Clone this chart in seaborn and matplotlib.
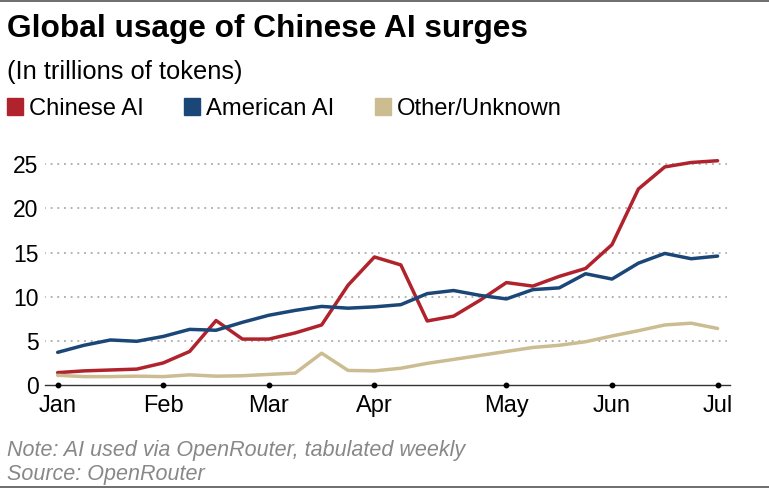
import seaborn as sns
import matplotlib.pyplot as plt
import pandas as pd
from matplotlib.patches import Rectangle
from matplotlib.lines import Line2D

# weekly totals, trillions of tokens
weeks = list(range(26))
chinese = [1.4, 1.6, 1.7, 1.8, 2.5, 3.8, 7.3, 5.2, 5.2, 5.9, 6.8, 11.3, 14.5,
           13.6, 7.25, 7.8, 9.6, 11.6, 11.2, 12.3, 13.2, 15.9, 22.2, 24.7, 25.2, 25.4]
american = [3.7, 4.5, 5.1, 4.95, 5.5, 6.3, 6.2, 7.1, 7.9, 8.45, 8.9, 8.7, 8.85,
            9.1, 10.35, 10.7, 10.15, 9.75, 10.8, 11.0, 12.6, 12.0, 13.8, 14.9, 14.3, 14.6]
other = [1.1, 0.95, 0.95, 1.0, 0.95, 1.15, 1.0, 1.05, 1.2, 1.35, 3.6, 1.65, 1.6,
         1.9, 2.45, 2.9, 3.35, 3.8, 4.25, 4.5, 4.9, 5.55, 6.15, 6.8, 7.0, 6.4]
month_ticks = [0, 4, 8, 12, 17, 21, 25]
month_labels = ["Jan", "Feb", "Mar", "Apr", "May", "Jun", "Jul"]
series = ["Chinese AI", "American AI", "Other/Unknown"]
colors = ["#b0232c", "#1b4778", "#cbbd91"]

df = pd.concat([
    pd.DataFrame({"week": weeks, "value": chinese, "group": series[0]}),
    pd.DataFrame({"week": weeks, "value": american, "group": series[1]}),
    pd.DataFrame({"week": weeks, "value": other, "group": series[2]}),
])

sns.set_style("white")
plt.rcParams['font.family'] = ['Liberation Sans', 'DejaVu Sans']
plt.rcParams['text.color'] = 'black'

W, H = 769, 488
fig = plt.figure(figsize=(W / 100, H / 100), dpi=100)
ax = fig.add_axes([45 / W, 103 / H, 685 / W, 238.4 / H])

sns.lineplot(data=df, x="week", y="value", hue="group", hue_order=series,
             palette=dict(zip(series, colors)), linewidth=2.5, legend=False,
             ax=ax, zorder=3)

ax.set_xlim(-0.48, 25.47)
ax.set_ylim(0, 27)
ax.set_yticks([0, 5, 10, 15, 20, 25])
ax.set_xticks(month_ticks)
ax.set_xticklabels(month_labels)
ax.tick_params(axis="both", length=0, colors="black")
ax.tick_params(axis="y", pad=4.5, labelsize=16.5)
ax.tick_params(axis="x", pad=7, labelsize=17)
ax.set_xlabel("")
ax.set_ylabel("")

for y in [5, 10, 15, 20, 25]:
    ax.axhline(y, xmin=-0.002, xmax=0.996, color="#aaaaaa", linewidth=1.3,
               linestyle=(0, (1, 2.7)), zorder=1)

for s in ["top", "right", "left"]:
    ax.spines[s].set_visible(False)
ax.spines["bottom"].set_color("#333333")
ax.spines["bottom"].set_linewidth(1.0)

ax.plot(month_ticks, [0] * len(month_ticks), "o", color="black",
        markersize=3.2, clip_on=False, zorder=4)

# header
fig.text(7 / W, 1 - 37.5 / H, "Global usage of Chinese AI surges",
         fontsize=22.8, fontweight="bold", ha="left", va="baseline")
fig.text(7 / W, 1 - 79.5 / H, "(In trillions of tokens)",
         fontsize=18.4, ha="left", va="baseline")

leg_x = [7, 184, 375]
for x0, name, c in zip(leg_x, series, colors):
    fig.patches.append(Rectangle((x0 / W, 1 - 115 / H), 16 / W, 16.5 / H,
                                 transform=fig.transFigure, color=c))
    fig.text((x0 + 22) / W, 1 - 115 / H, name, fontsize=17.1,
             ha="left", va="baseline")

# footer
fig.text(7 / W, 1 - 456 / H, "Note: AI used via OpenRouter, tabulated weekly",
         fontsize=15.5, style="italic", color="#888888", ha="left", va="baseline")
fig.text(7 / W, 1 - 480 / H, "Source: OpenRouter",
         fontsize=15.5, style="italic", color="#888888", ha="left", va="baseline")

# frame rules top and bottom
fig.add_artist(Line2D([0, 1], [1 - 0.8 / H, 1 - 0.8 / H], color="#555555",
                      linewidth=1.2, transform=fig.transFigure))
fig.add_artist(Line2D([0, 1], [1.2 / H, 1.2 / H], color="#555555",
                      linewidth=1.2, transform=fig.transFigure))

fig.savefig("out.png", dpi=100)
